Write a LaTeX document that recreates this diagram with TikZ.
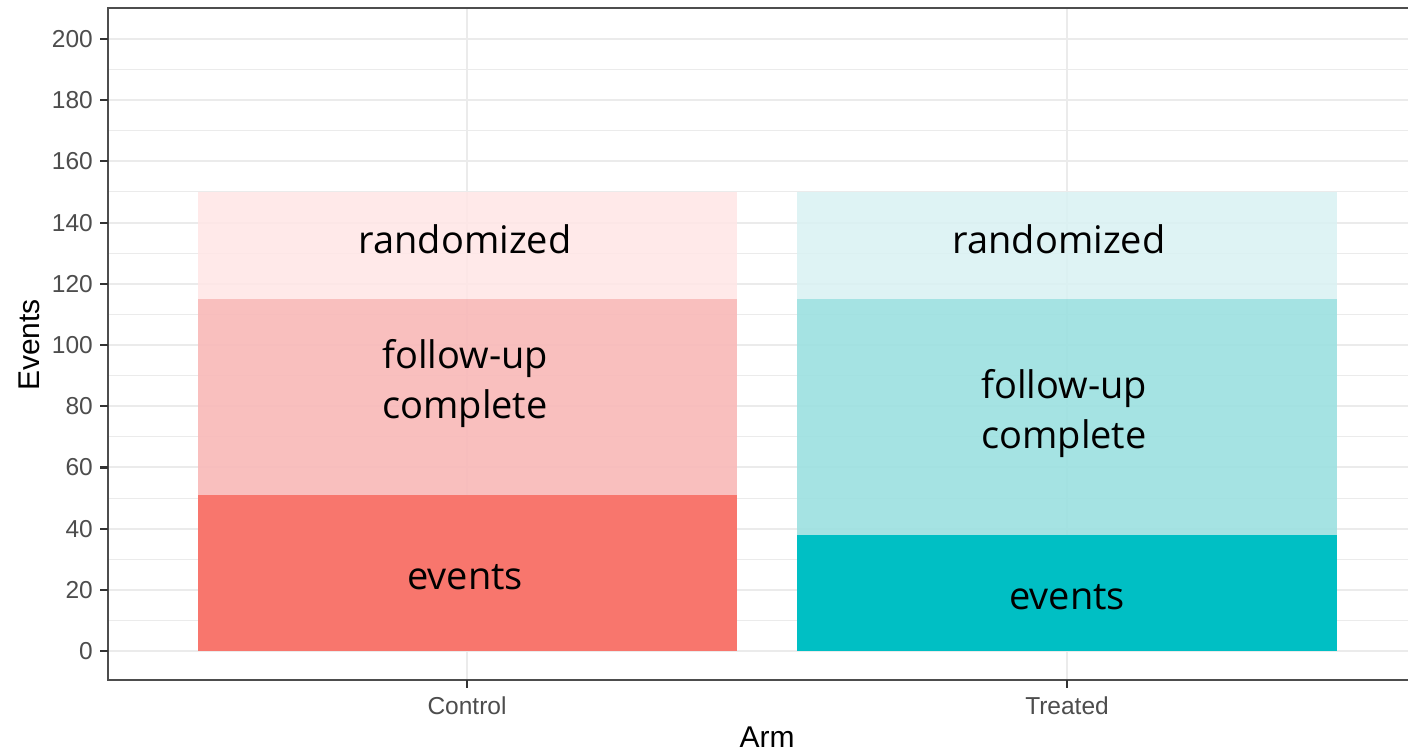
\documentclass[tikz,border=0pt]{standalone}
\usepackage{fontspec}
\setmainfont{Liberation Sans}
\newfontfamily\annfont{Open Sans}
\definecolor{ctrl}{HTML}{F8766D}
\definecolor{ctrlmid}{HTML}{F9B9B8}
\definecolor{ctrllow}{HTML}{FFE6E6}
\definecolor{trt}{HTML}{00BFC4}
\definecolor{trtmid}{HTML}{9CE0E1}
\definecolor{trtlow}{HTML}{D9F2F3}
\definecolor{gridc}{HTML}{EBEBEB}
\definecolor{axisc}{HTML}{4D4D4D}
\definecolor{tickc}{HTML}{333333}
\tikzset{
  majorgrid/.style={draw=gridc, line width=2pt},
  minorgrid/.style={draw=gridc, line width=1pt},
  ticklab/.style={text=axisc, font=\fontsize{24.5}{28}\selectfont, inner sep=0pt},
  axtitle/.style={text=black, font=\fontsize{30}{34}\selectfont, inner sep=0pt},
  ann/.style={text=black, font=\annfont\fontsize{38}{50}\selectfont, align=center, inner sep=0pt},
  tickmark/.style={draw=tickc, line width=2.2pt},
}
\begin{document}
\begin{tikzpicture}[x=1pt,y=-1pt]
\useasboundingbox (0,0) rectangle (1408,754);
\fill[white] (0,0) rectangle (1408,754);
% minor grid
\foreach \v in {10,30,...,190} {
  \draw[minorgrid] (108,{651-3.06*\v}) -- (1420,{651-3.06*\v});
}
% major grid
\foreach \v in {0,20,...,200} {
  \draw[majorgrid] (108,{651-3.06*\v}) -- (1420,{651-3.06*\v});
}
\draw[majorgrid] (467,8) -- (467,680);
\draw[majorgrid] (1067,8) -- (1067,680);
% bars control
\fill[ctrllow, opacity=0.85] (198,192) rectangle (737,299.1);
\fill[ctrlmid, opacity=0.9] (198,299.1) rectangle (737,494.9);
\fill[ctrl] (198,494.9) rectangle (737,651);
% bars treated
\fill[trtlow, opacity=0.85] (797,192) rectangle (1337,299.1);
\fill[trtmid, opacity=0.9] (797,299.1) rectangle (1337,534.7);
\fill[trt] (797,534.7) rectangle (1337,651);
% panel border
\draw[axisc, line width=1.6pt] (1420,8) -- (108,8) -- (108,680) -- (1420,680);
% y ticks
\foreach \v in {0,20,...,200} {
  \draw[tickmark] (100,{651-3.06*\v}) -- (108,{651-3.06*\v});
  \node[ticklab, anchor=east] (yl\v) at (93,{651-3.06*\v}) {\v};
}
% x ticks
\draw[tickmark] (467,680) -- (467,688);
\draw[tickmark] (1067,680) -- (1067,688);
\node[ticklab, anchor=base] (xctrl) at (467,714) {Control};
\node[ticklab, anchor=base] (xtrt) at (1067,714) {Treated};
% axis titles
\node[axtitle, anchor=base] (xtitle) at (767,747) {Arm};
\node[axtitle, rotate=90, anchor=base] (ytitle) at (39,345) {Events};
% annotations
\node[ann] (crand) at (465,239) {randomized};
\node[ann] (cfup) at (465,384) {follow-up\\complete};
\node[ann] (cev) at (465,577) {events};
\node[ann] (trand) at (1059,239) {randomized};
\node[ann] (tfup) at (1064,414) {follow-up\\complete};
\node[ann] (tev) at (1067,597) {events};
\end{tikzpicture}
\end{document}
